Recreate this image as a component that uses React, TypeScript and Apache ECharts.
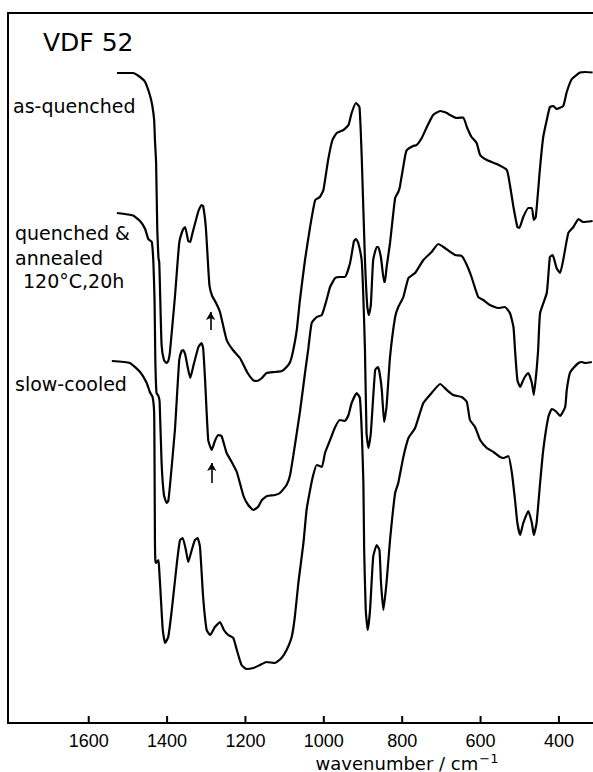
import React, { useEffect, useRef } from "react";
import * as echarts from "echarts";

// x: wavenumber / cm-1 ; y: relative transmittance (arbitrary units, offset traces)
const tickValues = [1600, 1400, 1200, 1000, 800, 600, 400];
const xMin = 313;
const xMax = 1806;

const asQuenched: number[][] = [
  [1528, 650], [1487, 650], [1469, 646], [1456, 641], [1444, 628], [1438, 618], [1433, 603], [1431, 583], [1428, 560], [1425, 493],
  [1422, 465], [1420, 461], [1418, 433], [1414, 378], [1408, 363], [1401, 360], [1397, 362], [1393, 370], [1380, 426], [1369, 480],
  [1360, 493], [1354, 496], [1346, 482], [1341, 481], [1337, 487], [1320, 512], [1312, 518], [1308, 517], [1301, 495], [1292, 438],
  [1285, 427], [1275, 420], [1265, 411], [1248, 383], [1232, 373], [1214, 365], [1196, 351], [1181, 343], [1171, 342], [1158, 345],
  [1146, 350], [1125, 351], [1107, 352], [1095, 356], [1086, 361], [1079, 371], [1069, 393], [1061, 423], [1048, 463], [1035, 496],
  [1022, 523], [1010, 526], [1001, 533], [989, 563], [978, 583], [967, 590], [950, 593], [937, 598], [929, 610], [918, 620],
  [909, 616], [903, 563], [895, 463], [889, 416], [885, 408], [880, 418], [874, 463], [865, 476], [861, 476], [854, 465],
  [846, 441], [844, 441], [840, 455], [831, 480], [818, 525], [810, 531], [806, 536], [793, 566], [788, 573], [772, 577],
  [763, 578], [750, 585], [737, 596], [721, 608], [703, 612], [697, 611.5], [686, 610], [678, 608], [661, 605], [644, 605.5],
  [635, 596], [623, 586], [610, 580], [601, 568], [584, 563], [559, 559], [533, 553], [525, 538], [516, 516], [506, 496],
  [501, 495], [491, 506], [478, 515], [469, 515], [464, 503], [459, 506], [448, 556], [440, 586], [431, 603], [423, 616],
  [414, 617], [406, 614], [389, 617], [380, 631], [367, 644], [346, 650.5], [333, 651], [314, 650.5],
];

const annealed: number[][] = [
  [1528, 510], [1487, 507.5], [1469, 502], [1456, 494], [1448, 484], [1439, 481], [1435, 461], [1432, 423], [1430, 363], [1427, 330],
  [1422, 327], [1419, 321], [1414, 260], [1408, 228], [1401, 220], [1397, 222], [1393, 236], [1380, 293], [1369, 363], [1363, 372],
  [1359, 373], [1354, 369], [1348, 357], [1341, 345], [1333, 357], [1320, 376], [1312, 380], [1308, 375], [1303, 343], [1295, 283],
  [1286, 273], [1278, 282], [1270, 288], [1261, 287], [1248, 270], [1235, 261], [1222, 251], [1205, 227], [1193, 218], [1180, 213],
  [1168, 216], [1158, 223], [1145, 227], [1125, 228], [1112, 230], [1095, 238], [1086, 248], [1078, 267], [1061, 311], [1048, 350],
  [1040, 373], [1031, 400], [1018, 406], [1005, 408], [993, 423], [984, 436], [971, 445], [959, 446], [946, 446], [933, 460],
  [923, 482], [918, 484], [912, 480], [903, 461], [895, 373], [891, 290], [886, 275], [880, 290], [869, 353], [862, 356],
  [858, 351], [852, 333], [846, 301], [840, 316], [831, 366], [818, 406], [810, 416], [797, 426], [784, 445], [767, 450],
  [746, 463], [725, 471], [708, 479], [691, 475], [665, 468], [648, 467], [635, 458], [623, 446], [606, 426], [593, 423],
  [576, 418], [555, 415], [538, 416], [525, 410], [516, 396], [512, 373], [506, 343], [499, 336], [492, 342], [487, 346],
  [478, 350], [469, 340], [464, 328], [457, 353], [453, 373], [448, 410], [431, 430], [423, 466], [416, 468], [406, 455],
  [397, 450], [389, 463], [376, 490], [363, 496], [350, 504], [338, 501], [314, 502],
];

const slowCooled: number[][] = [
  [1541, 362], [1495, 360], [1469, 351], [1452, 340], [1444, 331], [1437, 326], [1433, 310], [1432, 260], [1431, 183], [1430, 163],
  [1428, 160], [1422, 163], [1420, 153], [1416, 126], [1411, 93], [1405, 80], [1397, 86], [1388, 113], [1375, 160], [1367, 183],
  [1360, 185], [1352, 173], [1346, 161], [1337, 173], [1329, 183], [1322, 185], [1316, 176], [1308, 126], [1299, 93], [1290, 88],
  [1278, 96], [1265, 101], [1255, 93], [1244, 88], [1231, 85], [1222, 73], [1210, 58], [1197, 54], [1180, 55], [1163, 58],
  [1146, 61], [1125, 60], [1108, 65], [1095, 73], [1082, 86], [1074, 106], [1065, 140], [1052, 180], [1044, 213], [1035, 233],
  [1027, 248], [1018, 258], [1005, 256], [997, 270], [984, 283], [971, 296], [959, 303], [946, 302], [937, 308], [929, 320],
  [916, 330], [908, 325], [903, 290], [899, 240], [897, 173], [893, 113], [888, 93], [882, 113], [874, 166], [865, 178],
  [858, 173], [854, 140], [848, 113], [840, 140], [831, 183], [818, 230], [810, 240], [797, 266], [784, 285], [767, 295],
  [746, 320], [725, 330], [703, 339], [686, 333], [670, 328], [648, 326], [635, 321], [627, 303], [614, 296], [601, 283],
  [584, 275], [567, 271], [550, 266], [542, 265], [529, 267], [520, 250], [512, 223], [506, 200], [499, 188], [491, 200],
  [478, 212], [469, 200], [464, 188], [457, 200], [448, 240], [440, 273], [427, 306], [418, 314], [406, 311], [397, 307],
  [384, 316], [380, 333], [372, 350], [363, 355], [350, 360], [342, 361], [333, 360], [316, 361],
];

// arrows marking the ~1280 cm-1 band: [wavenumber, tail, tip]
const arrowAsQuenched = [1289, 393, 411];
const arrowAnnealed = [1286, 240, 260];

const FONT = '"DejaVu Sans", sans-serif';

function arrowMark(a: number[]) {
  return {
    silent: true,
    symbol: ["none", "arrow"],
    symbolSize: [7, 8],
    label: { show: false },
    lineStyle: { color: "#000", width: 1.6, type: "solid" },
    data: [[{ coord: [a[0], a[1]] }, { coord: [a[0], a[2]] }]],
  };
}

function lineSeries(name: string, data: number[][], mark?: any) {
  const s: any = {
    name,
    type: "line",
    data,
    showSymbol: false,
    symbol: "none",
    smooth: 0.15,
    lineStyle: { color: "#000", width: 2.2 },
    silent: true,
  };
  if (mark) s.markLine = mark;
  return s;
}

function label(text: string, x: number, y: number, size: number) {
  return {
    type: "text",
    x,
    y,
    style: {
      text,
      fill: "#000",
      fontSize: size,
      fontFamily: FONT,
      align: "left",
      verticalAlign: "middle",
      textAlign: "left",
      textVerticalAlign: "middle",
    },
  };
}

export default function App() {
  const ref = useRef<HTMLDivElement>(null);
  useEffect(() => {
    const chart = echarts.init(ref.current!, null, { renderer: "svg" });
    const texts: any[] = [
      label("VDF 52", 43, 42, 25),
      label("as-quenched", 13, 106, 19),
      label("quenched &", 15, 233, 19),
      label("annealed", 15, 258, 19),
      label("120°C,20h", 23, 281, 19),
      label("slow-cooled", 15, 384, 19),
      {
        type: "text",
        x: 407,
        y: 762,
        style: {
          text: "{m|wavenumber / cm}{s|−1}",
          fill: "#000",
          align: "center",
          verticalAlign: "middle",
          textAlign: "center",
          textVerticalAlign: "middle",
          rich: {
            m: { fontSize: 18, fontFamily: FONT, fill: "#000", lineHeight: 20, verticalAlign: "bottom" },
            s: { fontSize: 13, fontFamily: FONT, fill: "#000", lineHeight: 20, verticalAlign: "top", padding: [0, 0, 8, 1] },
          },
        },
      },
    ];
    chart.setOption({
      animation: false,
      backgroundColor: "#fff",
      grid: { left: 8, right: 0, top: 13, bottom: 49, containLabel: false },
      xAxis: [
        {
          type: "value",
          inverse: true,
          min: xMin,
          max: xMax,
          position: "bottom",
          axisLine: { show: true, onZero: false, lineStyle: { color: "#000", width: 2 } },
          axisTick: { show: false },
          axisLabel: {
            show: true,
            customValues: tickValues,
            formatter: (v: number) => String(v),
            color: "#000",
            fontSize: 18,
            fontFamily: '"Liberation Sans", sans-serif',
            margin: 9,
          },
          splitLine: { show: false },
        },
        {
          type: "value",
          inverse: true,
          min: xMin,
          max: xMax,
          position: "top",
          axisLine: { show: true, onZero: false, lineStyle: { color: "#000", width: 2 } },
          axisTick: { show: false },
          axisLabel: { show: false },
          splitLine: { show: false },
        },
      ],
      yAxis: {
        type: "value",
        min: 0,
        max: 710,
        axisLine: { show: true, onZero: false, lineStyle: { color: "#000", width: 2 } },
        axisTick: { show: false },
        axisLabel: { show: false },
        splitLine: { show: false },
      },
      series: [
        lineSeries("as-quenched", asQuenched, arrowMark(arrowAsQuenched)),
        lineSeries("quenched & annealed 120°C,20h", annealed, arrowMark(arrowAnnealed)),
        lineSeries("slow-cooled", slowCooled),
      ],
      graphic: texts,
    });
    // inward tick marks at the labelled wavenumbers, placed through the axis scale
    const y0 = chart.convertToPixel({ yAxisIndex: 0 }, 0) as number;
    const ticks = tickValues.map((v) => {
      const px = chart.convertToPixel({ xAxisIndex: 0 }, v) as number;
      return {
        type: "line",
        shape: { x1: px, y1: y0, x2: px, y2: y0 - 7 },
        style: { stroke: "#000", lineWidth: 2 },
        silent: true,
      };
    });
    chart.setOption({ graphic: [...texts, ...ticks] });
    return () => chart.dispose();
  }, []);
  return (
    <div
      ref={ref}
      style={{ position: "fixed", left: 0, top: 0, width: 593, height: 772, background: "#fff" }}
    />
  );
}
